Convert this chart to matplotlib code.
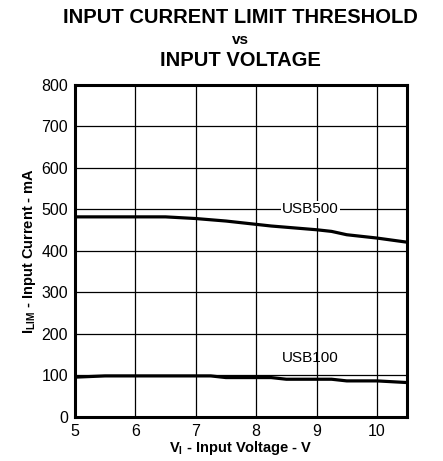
import matplotlib
matplotlib.use("Agg")
import matplotlib.pyplot as plt

plt.rcParams['font.family'] = ['Liberation Sans', 'DejaVu Sans']

v_in = [5.0, 5.5, 6.0, 6.5, 7.0, 7.25, 7.5, 8.0, 8.25, 8.5, 9.0, 9.25, 9.5, 10.0, 10.5]
usb500 = [482, 482, 482, 482, 478, 475, 472, 464, 460, 457, 451, 447, 439, 431, 421]
usb100 = [96, 99, 99, 99, 99, 99, 95, 95, 95, 91, 91, 91, 87, 87, 83]

x_ticks = [5, 6, 7, 8, 9, 10]
y_ticks = [0, 100, 200, 300, 400, 500, 600, 700, 800]

fig = plt.figure(figsize=(4.43, 4.61), dpi=100)
ax = fig.add_axes([0.169, 0.0954, 0.750, 0.7206])

ax.plot(v_in, usb500, color='black', lw=2.3, zorder=3)
ax.plot(v_in, usb100, color='black', lw=2.3, zorder=3)

ax.set_xlim(5, 10.5)
ax.set_ylim(0, 800)
ax.set_xticks(x_ticks)
ax.set_yticks(y_ticks)
ax.grid(True, color='black', lw=0.9)
ax.tick_params(length=0, labelsize=11.5, pad=5)
for s in ax.spines.values():
    s.set_linewidth(2.2)

ax.text(8.9, 500, 'USB500', ha='center', va='center', fontsize=11,
        bbox=dict(facecolor='white', edgecolor='none', pad=1), zorder=4)
ax.text(8.9, 142, 'USB100', ha='center', va='center', fontsize=11, zorder=4)

ax.set_xlabel(r'V$_\mathregular{I}$ - Input Voltage - V', fontsize=10.5, fontweight='bold', labelpad=0)
ax.set_ylabel(r'I$_\mathregular{LIM}$ - Input Current - mA', fontsize=10.5, fontweight='bold', labelpad=2)

fig.text(0.543, 0.962, 'INPUT CURRENT LIMIT THRESHOLD', ha='center', va='center', fontsize=14.5, fontweight='bold')
fig.text(0.543, 0.914, 'vs', ha='center', va='center', fontsize=11, fontweight='bold')
fig.text(0.543, 0.868, 'INPUT VOLTAGE', ha='center', va='center', fontsize=14.5, fontweight='bold')

fig.savefig('out.png', dpi=100)
